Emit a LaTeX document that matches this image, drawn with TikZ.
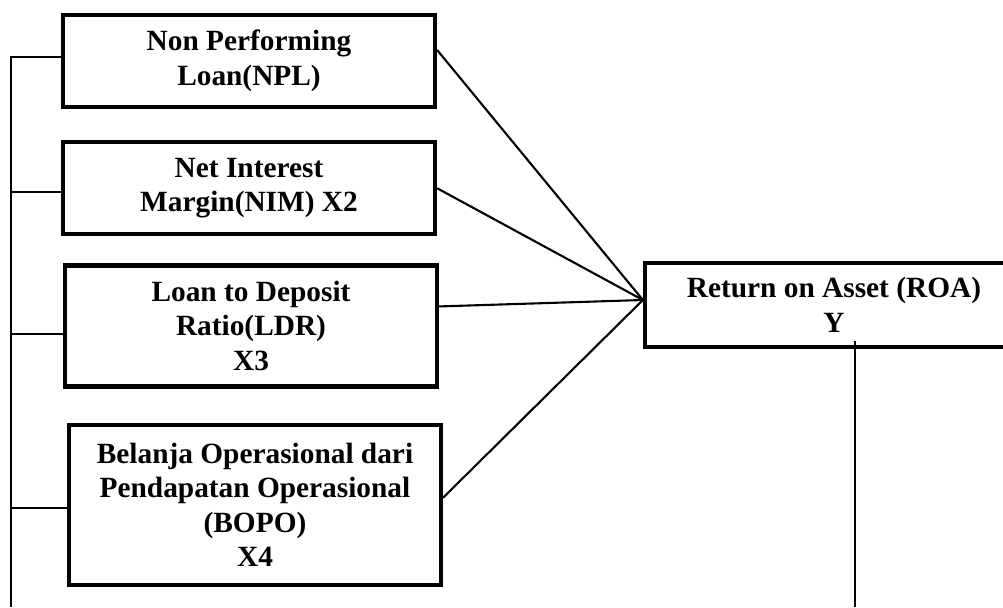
\documentclass[tikz,border=0pt]{standalone}
\usepackage{fontspec}
\setmainfont{Liberation Serif}
\usepackage{tikz}
\usetikzlibrary{calc,positioning}
\tikzset{%
	block/.style    = {draw, rectangle, line width=2.4pt, align=center, inner sep=2pt,
	                   font=\fontsize{16.7pt}{19.6pt}\selectfont\bfseries}, % Variable
	link/.style     = {line width=1.2pt}, % Connector
	waypoint/.style = {coordinate}, % Free end
}

\begin{document}
\begin{tikzpicture}[node distance = 2cm]
		\useasboundingbox (0,0) rectangle (20.06,12.14);
		\clip (0,0) rectangle (20.06,12.14);
		\node[block, minimum width=7.44cm, minimum height=1.84cm] (npl) at (4.98,10.92) {Non Performing\\Loan(NPL)};
		\node[block, minimum width=7.44cm, minimum height=1.84cm, below=0.62cm of npl] (nim) {Net Interest\\Margin(NIM) X2};
		\node[block, minimum width=7.44cm, minimum height=2.42cm, below=0.54cm of nim, xshift=0.04cm] (ldr) {Loan to Deposit\\Ratio(LDR)\\X3};
		\node[block, minimum width=7.44cm, minimum height=3.2cm, below=0.68cm of ldr, xshift=0.08cm] (bopo) {Belanja Operasional dari\\Pendapatan Operasional\\(BOPO)\\X4};
		% box runs on past the right margin
		\node[block, minimum width=8.2cm, minimum height=1.68cm] (roa) at (17.0,6.04) {Return on Asset (ROA)\hspace*{0.64cm}\\Y\hspace*{0.64cm}};
		\node[waypoint] (bus) at (0.22,0) {};
		\node[waypoint] (roaend) at (17.1,0) {};
		\node[waypoint] (hub) at ($(roa.west)+(0,0.1)$) {};
		% independent variables into ROA
		\draw[link] ([yshift=0.22cm]npl.east) -- (hub);
		\draw[link] (nim.east) -- (hub);
		\draw[link] ([yshift=0.39cm]ldr.east) -- (hub);
		\draw[link] ([yshift=0.14cm]bopo.east) -- (hub);
		% common line on the left
		\draw[link] ([yshift=0.08cm]npl.west) -| (bus);
		\draw[link] ([yshift=-0.08cm]nim.west) -- ([yshift=-0.08cm]nim.west -| bus);
		\draw[link] ([yshift=-0.17cm]ldr.west) -- ([yshift=-0.17cm]ldr.west -| bus);
		\draw[link] ([yshift=-0.06cm]bopo.west) -- ([yshift=-0.06cm]bopo.west -| bus);
		\draw[link] ([yshift=0.16cm]roa.south -| roaend) -- (roaend);
\end{tikzpicture}
\end{document}
